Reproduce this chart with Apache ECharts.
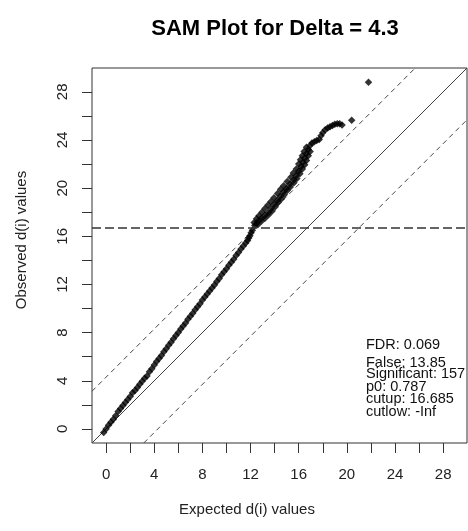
<!DOCTYPE html>
<html><head><meta charset="utf-8">
<script src="https://cdn.jsdelivr.net/npm/echarts@6/dist/echarts.min.js"></script>
<style>html,body{margin:0;padding:0;background:#fff}#c{width:468px;height:531px}</style>
</head><body><div id="c"></div>
<script>
const titleText = 'SAM Plot for Delta = 4.3';
const xTitle = 'Expected d(i) values';
const yTitle = 'Observed d(i) values';
const delta = 4.3;
const cutup = 16.685;
const statsLines = ['FDR: 0.069', 'False: 13.85', 'Significant: 157', 'p0: 0.787', 'cutup: 16.685', 'cutlow: -Inf'];
const tickValues = [0, 2, 4, 6, 8, 10, 12, 14, 16, 18, 20, 22, 24, 26, 28];
const labelValues = [0, 4, 8, 12, 16, 20, 24, 28];
const axisMin = -1.17, axisMax = 29.98;

// lower, thin part of the curve
const lowerExpected = [
  -0.2, 0.0, 0.2, 0.4, 0.6, 0.8, 1.0, 1.2, 1.4, 1.6, 1.8, 2.0, 2.2, 2.4, 2.6, 2.8, 3.0, 3.2, 3.4, 3.6,
  3.8, 4.0, 4.2, 4.4, 4.6, 4.8, 5.0, 5.2, 5.4, 5.6, 5.8, 6.0, 6.2, 6.4, 6.6, 6.8, 7.0, 7.2, 7.4, 7.6,
  7.8, 8.0, 8.2, 8.4, 8.6, 8.8, 9.0, 9.2, 9.4, 9.6, 9.8, 10.0, 10.2, 10.4, 10.6, 10.8, 11.0, 11.2, 11.4, 11.6,
  11.75, 11.85, 11.95, 12.05, 12.15
];
const lowerObserved = [
  -0.3, 0.0, 0.3, 0.55, 0.8, 1.1, 1.45, 1.7, 1.95, 2.2, 2.45, 2.7, 3.0, 3.2, 3.45, 3.7, 3.95, 4.2, 4.4, 4.75,
  5.0, 5.3, 5.6, 5.85, 6.1, 6.4, 6.65, 6.95, 7.2, 7.5, 7.75, 8.0, 8.3, 8.55, 8.8, 9.1, 9.35, 9.6, 9.9, 10.15,
  10.4, 10.7, 10.95, 11.2, 11.45, 11.7, 11.95, 12.25, 12.5, 12.8, 13.05, 13.3, 13.6, 13.85, 14.1, 14.4, 14.65, 14.95, 15.2, 15.45,
  15.65, 15.85, 16.05, 16.3, 16.5
];
// thick band of significant genes
const bandExpected = [
  12.35, 12.6, 12.9, 13.2, 13.5, 13.75, 14.0, 14.25, 14.5, 14.75, 15.0, 15.3, 15.6, 15.8, 16.0, 16.2, 16.35, 16.5, 16.65, 16.8, 16.95,
  12.3, 12.5, 12.7, 12.95, 13.2, 13.45, 13.7, 13.95, 14.25, 14.5, 14.75, 15.05, 15.35, 15.55, 15.8, 16.0, 16.15, 16.3, 16.45, 16.65,
  12.6, 12.9, 13.2, 13.5, 13.8, 14.05, 14.3, 14.55, 14.8, 15.05, 15.3, 15.6, 15.85, 16.1, 16.3, 16.5, 16.65, 16.8, 16.95
];
const bandObserved = [
  16.9, 17.2, 17.5, 17.75, 18.0, 18.35, 18.7, 19.0, 19.35, 19.7, 20.0, 20.35, 20.7, 21.05, 21.4, 21.8, 22.15, 22.5, 22.85, 23.2, 23.55,
  17.15, 17.45, 17.7, 18.0, 18.3, 18.6, 18.9, 19.2, 19.55, 19.9, 20.2, 20.55, 20.9, 21.25, 21.6, 22.0, 22.35, 22.7, 23.05, 23.4,
  16.95, 17.25, 17.5, 17.8, 18.1, 18.45, 18.8, 19.1, 19.45, 19.8, 20.1, 20.45, 20.8, 21.2, 21.6, 21.95, 22.3, 22.7, 23.05
];
// top tail
const topExpected = [17.1, 17.3, 17.5, 17.7, 17.85, 18.0, 18.2, 18.4, 18.6, 18.8, 19.0, 19.2, 19.4, 19.6, 20.4, 21.8];
const topObserved = [23.75, 23.85, 23.95, 24.05, 24.35, 24.6, 24.85, 25.0, 25.1, 25.2, 25.3, 25.35, 25.35, 25.25, 25.65, 28.8];

const expected = lowerExpected.concat(bandExpected, topExpected);
const observed = lowerObserved.concat(bandObserved, topObserved);
const points = expected.map((x, i) => [x, observed[i]]);
const font = 'Liberation Sans, Arial, sans-serif';
const chart = echarts.init(document.getElementById('c'), null, {renderer: 'canvas'});

function axis(isY) {
  return {
    type: 'value', min: axisMin, max: axisMax,
    axisLine: {show: false, onZero: false}, splitLine: {show: false},
    axisTick: {show: true, length: 10, customValues: tickValues, lineStyle: {color: '#333', width: 1}},
    axisLabel: {customValues: labelValues, margin: isY ? 22 : 24, rotate: isY ? 90 : 0,
      fontSize: 15, color: '#222', fontFamily: font}
  };
}

chart.setOption({
  animation: false,
  backgroundColor: '#fff',
  title: {text: titleText, left: 270, top: 13, textAlign: 'center',
    textStyle: {fontSize: 22, fontWeight: 'bold', color: '#000', fontFamily: font}},
  grid: {left: 92, top: 68, width: 375, height: 375, show: true, borderColor: '#333', borderWidth: 1, backgroundColor: '#fff'},
  xAxis: axis(false),
  yAxis: axis(true),
  graphic: [
    {type: 'text', x: 247, y: 510, style: {text: xTitle, fontSize: 15, fill: '#222', fontFamily: font, align: 'center', verticalAlign: 'middle'}},
    {type: 'text', x: 22, y: 240, rotation: Math.PI / 2, style: {text: yTitle, fontSize: 15, fill: '#222', fontFamily: font, align: 'center', verticalAlign: 'middle'}},
    {type: 'group', left: 366, top: 337, children: statsLines.map((t, i) => ({
      type: 'text', x: 0, y: [0, 18, 29.5, 42, 54.5, 67][i],
      style: {text: t, fontSize: 14.5, fill: '#111', fontFamily: font}
    }))}
  ],
  series: [
    {type: 'line', data: [[axisMin, axisMin], [axisMax, axisMax]], showSymbol: false, clip: true, silent: true,
      lineStyle: {color: '#444', width: 1}, z: 1},
    {type: 'line', data: [[axisMin, axisMin + delta], [axisMax - delta, axisMax]], showSymbol: false, clip: true, silent: true,
      lineStyle: {color: '#444', width: 1, type: [5, 4]}, z: 1},
    {type: 'line', data: [[axisMin + delta, axisMin], [axisMax, axisMax - delta]], showSymbol: false, clip: true, silent: true,
      lineStyle: {color: '#444', width: 1, type: [5, 4]}, z: 1},
    {type: 'scatter', data: points, symbol: 'diamond', symbolSize: 7.5, itemStyle: {color: '#000'}, z: 3,
      markLine: {silent: true, symbol: 'none', label: {show: false},
        lineStyle: {color: '#333', width: 1.5, type: [9, 4]}, data: [{yAxis: cutup}]}}
  ]
});
</script></body></html>
